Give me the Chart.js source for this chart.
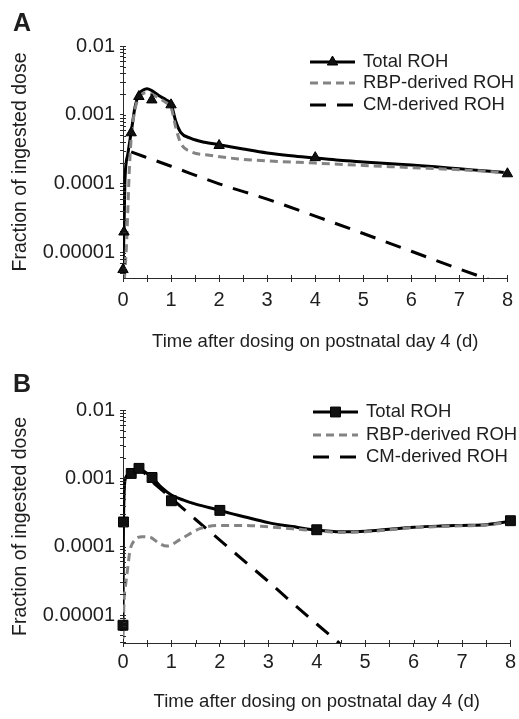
<!DOCTYPE html>
<html>
<head>
<meta charset="utf-8">
<title>ROH kinetics</title>
<script src="https://cdn.jsdelivr.net/npm/chart.js@4.4.1/dist/chart.umd.min.js"></script>
<style>
  html, body { margin: 0; padding: 0; background: #fff; }
  .panel { position: absolute; left: 0; width: 519px; }
  #panelA { top: 0; height: 360px; }
  #panelB { top: 360px; height: 359px; }
</style>
</head>
<body>
<div class="panel" id="panelA"><canvas id="chartA" width="519" height="360"></canvas></div>
<div class="panel" id="panelB"><canvas id="chartB" width="519" height="359"></canvas></div>
<script>
'use strict';

/* ── labels ── */
const SERIES_NAMES  = ['Total ROH', 'RBP-derived ROH', 'CM-derived ROH'];
const X_TITLE       = 'Time after dosing on postnatal day 4 (d)';
const Y_TITLE       = 'Fraction of ingested dose';
const X_TICK_VALUES = [0, 0.5, 1, 1.5, 2, 2.5, 3, 3.5, 4, 4.5, 5, 5.5, 6, 6.5, 7, 7.5, 8];
const X_TICK_LABELS = ['0', '1', '2', '3', '4', '5', '6', '7', '8'];
const Y_TICK_VALUES = [0.01, 0.001, 0.0001, 0.00001];
const Y_TICK_LABELS = ['0.01', '0.001', '0.0001', '0.00001'];

/* ── panel A (triangles) ── */
const A_OBS_X   = [0, 0.02, 0.17, 0.33, 0.6, 1, 2, 4, 8];
const A_OBS_Y   = [5.7e-6, 2.0e-5, 5.5e-4, 1.85e-3, 1.65e-3, 1.4e-3, 3.6e-4, 2.4e-4, 1.4e-4];
const A_TOTAL_X = [0, 0.02, 0.04, 0.1, 0.17, 0.25, 0.33, 0.42, 0.5, 0.6, 0.75, 0.9, 1.0, 1.1, 1.2,
                   1.4, 1.7, 2.0, 2.5, 3.0, 3.5, 4.0, 4.5, 5.0, 5.5, 6.0, 6.5, 7.0, 7.5, 8.0];
const A_TOTAL_Y = [5.7e-6, 2.0e-5, 1.1e-4, 2.7e-4, 5.6e-4, 1.3e-3, 2.0e-3, 2.3e-3, 2.4e-3, 2.25e-3,
                   1.9e-3, 1.65e-3, 1.45e-3, 8.0e-4, 5.6e-4, 4.6e-4, 4.0e-4, 3.7e-4, 3.2e-4, 2.8e-4,
                   2.55e-4, 2.37e-4, 2.2e-4, 2.08e-4, 1.97e-4, 1.87e-4, 1.77e-4, 1.65e-4, 1.55e-4, 1.45e-4];
const A_RBP_X   = [0.03, 0.07, 0.1, 0.13, 0.17, 0.25, 0.33, 0.42, 0.5, 0.6, 0.75, 0.9, 1.0, 1.1,
                   1.2, 1.4, 1.8, 2.4, 3.0, 4.0, 5.0, 6.0, 7.0, 8.0];
const A_RBP_Y   = [4.3e-6, 1.2e-5, 4.0e-5, 1.5e-4, 4.5e-4, 1.2e-3, 1.8e-3, 2.05e-3, 2.1e-3, 2.0e-3,
                   1.75e-3, 1.5e-3, 1.3e-3, 6.5e-4, 3.9e-4, 2.95e-4, 2.6e-4, 2.3e-4, 2.15e-4, 2.0e-4,
                   1.85e-4, 1.72e-4, 1.6e-4, 1.45e-4];
const A_CM_X    = [0.17, 1, 2, 3, 4, 5, 6, 7, 8];
const A_CM_Y    = [2.9e-4, 1.8e-4, 1.0e-4, 6.0e-5, 3.4e-5, 1.9e-5, 1.05e-5, 5.8e-6, 3.3e-6];

/* ── panel B (squares) ── */
const B_OBS_X   = [0, 0.01, 0.17, 0.33, 0.6, 1, 2, 4, 8];
const B_OBS_Y   = [7.1e-6, 2.3e-4, 1.18e-3, 1.4e-3, 1.03e-3, 4.7e-4, 3.4e-4, 1.77e-4, 2.4e-4];
const B_TOTAL_X = [0, 0.01, 0.05, 0.1, 0.17, 0.3, 0.45, 0.6, 0.8, 1.0, 1.25, 1.5, 2.0, 2.2, 2.5,
                   3.0, 3.5, 4.0, 4.5, 5.0, 5.5, 6.0, 6.5, 7.0, 7.5, 8.0];
const B_TOTAL_Y = [7.1e-6, 2.3e-4, 1.0e-3, 1.12e-3, 1.22e-3, 1.42e-3, 1.25e-3, 1.03e-3, 7.3e-4, 5.7e-4,
                   4.8e-4, 4.2e-4, 3.4e-4, 3.1e-4, 2.75e-4, 2.25e-4, 1.97e-4, 1.75e-4, 1.65e-4, 1.68e-4,
                   1.8e-4, 1.92e-4, 2.0e-4, 2.05e-4, 2.1e-4, 2.35e-4];
const B_RBP_X   = [0, 0.02, 0.06, 0.1, 0.14, 0.24, 0.4, 0.55, 0.75, 0.9, 1.2, 1.6, 2.0, 2.5, 3.0,
                   3.5, 4.0, 4.5, 5.0, 5.5, 6.0, 6.5, 7.0, 7.5, 8.0];
const B_RBP_Y   = [4.5e-6, 1.5e-5, 3.0e-5, 5.0e-5, 8.5e-5, 1.25e-4, 1.4e-4, 1.38e-4, 1.12e-4, 1.02e-4,
                   1.3e-4, 1.85e-4, 2.05e-4, 2.05e-4, 1.95e-4, 1.83e-4, 1.7e-4, 1.62e-4, 1.65e-4, 1.77e-4,
                   1.9e-4, 1.97e-4, 2.02e-4, 2.08e-4, 2.3e-4];
const B_CM_X    = [0.17, 0.33, 0.67, 1, 1.5, 2, 2.5, 3, 3.5, 4, 4.5];
const B_CM_Y    = [1.2e-3, 1.3e-3, 8.1e-4, 5.1e-4, 2.5e-4, 1.25e-4, 6.2e-5, 3.1e-5, 1.5e-5, 7.4e-6, 3.7e-6];

/* ── look ── */
const FONT_FAMILY = '"Liberation Sans", Arial, Helvetica, sans-serif';
const TEXT_COLOR  = '#1e1e1e';
const AXIS_COLOR  = '#2a2a2a';
const GREY_LINE   = '#848484';
const TICK_IN     = 3;   // part of each tick mark that crosses into the plot

Chart.defaults.font.family = FONT_FAMILY;
Chart.defaults.color = TEXT_COLOR;

function toPoints(xs, ys) {
  return xs.map((x, i) => ({ x: x, y: ys[i] }));
}

/* minor log ticks (2..9 per decade) + the labelled decades */
function logTicks(min, max) {
  const out = [];
  for (let e = -6; e <= -2; e++) {
    for (let m = 1; m <= 9; m++) {
      const v = m * Math.pow(10, e);
      if (v >= min * 0.999 && v <= max * 1.001) out.push(v);
    }
  }
  return out;
}

function yLabel(v) {
  const i = Y_TICK_VALUES.findIndex(t => Math.abs(Math.log10(t) - Math.log10(v)) < 1e-6);
  return i >= 0 ? Y_TICK_LABELS[i] : '';
}

function xLabel(v) {
  return Number.isInteger(v) ? X_TICK_LABELS[v] : '';
}

/* ── ticks that cross the axis line (inner half) ── */
const crossTicks = {
  id: 'crossTicks',
  afterDraw(chart) {
    const { ctx, chartArea, scales } = chart;
    ctx.save();
    ctx.strokeStyle = AXIS_COLOR;
    ctx.lineWidth = 1;
    ctx.beginPath();
    scales.x.ticks.forEach(t => {
      const px = Math.round(scales.x.getPixelForValue(t.value)) + 0.5;
      ctx.moveTo(px, chartArea.bottom);
      ctx.lineTo(px, chartArea.bottom - TICK_IN);
    });
    scales.y.ticks.forEach(t => {
      const py = Math.round(scales.y.getPixelForValue(t.value)) + 0.5;
      ctx.moveTo(chartArea.left, py);
      ctx.lineTo(chartArea.left + TICK_IN, py);
    });
    ctx.stroke();
    ctx.restore();
  }
};

/* ── panel letter + legend (line sample with marker) ── */
const panelDecor = {
  id: 'panelDecor',
  afterDraw(chart, args, o) {
    const ctx = chart.ctx;
    const ds  = chart.data.datasets;
    ctx.save();
    ctx.fillStyle = TEXT_COLOR;
    ctx.font = 'bold 25px ' + FONT_FAMILY;
    ctx.textBaseline = 'alphabetic';
    ctx.textAlign = 'left';
    ctx.fillText(o.letter, o.letterX, o.letterY);

    ctx.font = '18.5px ' + FONT_FAMILY;
    ctx.textBaseline = 'middle';
    o.rows.forEach((y, i) => {
      const line = ds.find(d => d.label === SERIES_NAMES[i]);
      ctx.save();
      ctx.strokeStyle = line.borderColor;
      ctx.lineWidth = line.borderWidth;
      ctx.setLineDash(line.borderDash || []);
      ctx.beginPath();
      ctx.moveTo(o.x0, y);
      ctx.lineTo(o.x1, y);
      ctx.stroke();
      ctx.restore();
      if (i === 0) {
        const mk = ds[0];
        ctx.save();
        ctx.fillStyle = mk.pointBackgroundColor;
        ctx.strokeStyle = mk.pointBorderColor;
        ctx.lineWidth = mk.pointBorderWidth;
        Chart.helpers.drawPoint(ctx, { pointStyle: mk.pointStyle, radius: mk.pointRadius, rotation: 0, borderWidth: mk.pointBorderWidth },
          (o.x0 + o.x1) / 2, y);
        ctx.restore();
      }
      ctx.fillStyle = TEXT_COLOR;
      ctx.fillText(SERIES_NAMES[i], o.textX, y);
    });
    ctx.restore();
  }
};

function buildChart(canvasId, p) {
  return new Chart(document.getElementById(canvasId), {
    type: 'line',
    data: {
      datasets: [
        { label: 'observed', data: toPoints(p.obsX, p.obsY), showLine: false, clip: false,
          pointStyle: p.marker, pointRadius: p.markerRadius, pointBackgroundColor: '#111',
          pointBorderColor: '#000', pointBorderWidth: 1, order: 0 },
        { label: SERIES_NAMES[1], data: toPoints(p.rbpX, p.rbpY), borderColor: GREY_LINE,
          borderWidth: 3, borderDash: [8, 5], pointRadius: 0, order: 1 },
        { label: SERIES_NAMES[0], data: toPoints(p.totalX, p.totalY), borderColor: '#000',
          borderWidth: 3, pointRadius: 0, order: 2 },
        { label: SERIES_NAMES[2], data: toPoints(p.cmX, p.cmY), borderColor: '#000',
          borderWidth: 3, borderDash: [16, 11], pointRadius: 0, order: 3 },
      ],
    },
    options: {
      responsive: false,
      animation: false,
      devicePixelRatio: 1,
      layout: { padding: { left: 0, right: 5, top: p.plotTop, bottom: 0 } },
      elements: { line: { cubicInterpolationMode: 'monotone', fill: false } },
      plugins: {
        legend: { display: false },
        tooltip: { enabled: false },
        panelDecor: {
          letter: p.letter, letterX: 13, letterY: p.letterY,
          x0: p.legendX0, x1: p.legendX1, textX: p.legendTextX, rows: p.legendRows,
        },
      },
      scales: {
        x: {
          type: 'linear', min: 0, max: 8,
          afterBuildTicks: s => { s.ticks = X_TICK_VALUES.map(v => ({ value: v })); },
          afterFit: s => { s.height = p.canvasH - p.plotBottom; },
          border: { color: AXIS_COLOR, width: 1 },
          grid: { drawOnChartArea: false, drawTicks: true, tickLength: 4, color: AXIS_COLOR },
          ticks: { autoSkip: false, maxRotation: 0, padding: p.xTickPad, font: { size: 20 },
                   color: TEXT_COLOR, callback: v => xLabel(v) },
          title: { display: true, text: X_TITLE, font: { size: 18.5 }, color: TEXT_COLOR,
                   padding: { top: 0, bottom: p.xTitlePadB } },
        },
        y: {
          type: 'logarithmic', min: p.yMin, max: 0.01,
          afterBuildTicks: s => { s.ticks = logTicks(p.yMin, 0.01).map(v => ({ value: v })); },
          afterFit: s => { s.width = 123; },
          border: { color: AXIS_COLOR, width: 1 },
          grid: { drawOnChartArea: false, drawTicks: true, tickLength: 3, color: AXIS_COLOR },
          ticks: { autoSkip: false, padding: 5, font: { size: 20 }, color: TEXT_COLOR,
                   callback: v => yLabel(v) },
          title: { display: true, text: Y_TITLE, font: { size: 19.5 }, color: TEXT_COLOR,
                   padding: { top: 9, bottom: 0 } },
        },
      },
    },
    plugins: [crossTicks, panelDecor],
  });
}

buildChart('chartA', {
  letter: 'A', letterY: 31, plotTop: 46, plotBottom: 278, canvasH: 360, yMin: 4.3e-6,
  xTickPad: 6, xTitlePadB: 7,
  legendX0: 310, legendX1: 355, legendTextX: 363, legendRows: [62, 83, 105],
  marker: 'triangle', markerRadius: 6,
  obsX: A_OBS_X, obsY: A_OBS_Y, totalX: A_TOTAL_X, totalY: A_TOTAL_Y,
  rbpX: A_RBP_X, rbpY: A_RBP_Y, cmX: A_CM_X, cmY: A_CM_Y,
});

buildChart('chartB', {
  letter: 'B', letterY: 32, plotTop: 50, plotBottom: 283, canvasH: 359, yMin: 3.9e-6,
  xTickPad: 3, xTitlePadB: 6,
  legendX0: 313, legendX1: 358, legendTextX: 366, legendRows: [52, 75, 97],
  marker: 'rect', markerRadius: 7,
  obsX: B_OBS_X, obsY: B_OBS_Y, totalX: B_TOTAL_X, totalY: B_TOTAL_Y,
  rbpX: B_RBP_X, rbpY: B_RBP_Y, cmX: B_CM_X, cmY: B_CM_Y,
});
</script>
</body>
</html>
